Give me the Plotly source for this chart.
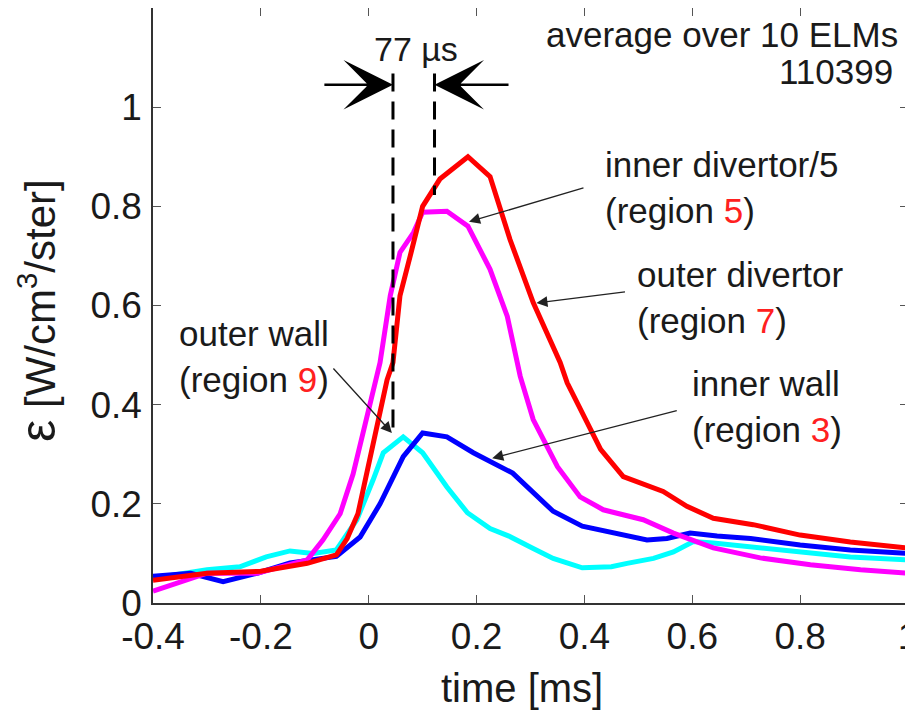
import plotly.graph_objects as go

# ---------------- data ----------------
t_outer_div = [-0.4, -0.3, -0.2, -0.114, -0.06, -0.04, -0.02, 0.008, 0.034, 0.045, 0.058, 0.077,
               0.10, 0.132, 0.184, 0.225, 0.262, 0.305, 0.355, 0.368, 0.43, 0.472, 0.546, 0.59,
               0.639, 0.713, 0.80, 0.893, 1.0]
e_outer_div = [0.046, 0.060, 0.064, 0.080, 0.097, 0.130, 0.180, 0.315, 0.450, 0.485, 0.620, 0.700,
               0.800, 0.855, 0.900, 0.860, 0.733, 0.606, 0.485, 0.444, 0.310, 0.255, 0.225, 0.195,
               0.171, 0.158, 0.137, 0.123, 0.111]

t_inner_div = [-0.4, -0.3, -0.207, -0.114, -0.085, -0.053, -0.029, -0.003, 0.021, 0.04, 0.058,
               0.083, 0.10, 0.145, 0.184, 0.225, 0.257, 0.281, 0.305, 0.35, 0.392, 0.435, 0.509,
               0.565, 0.639, 0.726, 0.819, 0.912, 1.0]
e_inner_div = [0.024, 0.060, 0.060, 0.087, 0.127, 0.180, 0.260, 0.380, 0.485, 0.620, 0.707,
               0.747, 0.788, 0.790, 0.760, 0.673, 0.578, 0.457, 0.370, 0.275, 0.214, 0.188, 0.168,
               0.141, 0.111, 0.091, 0.077, 0.067, 0.060]

t_inner_wall = [-0.4, -0.33, -0.27, -0.207, -0.146, -0.06, -0.016, 0.021, 0.064, 0.10, 0.145,
                0.194, 0.267, 0.305, 0.342, 0.396, 0.461, 0.516, 0.553, 0.596, 0.646, 0.708,
                0.80, 0.893, 1.0]
e_inner_wall = [0.054, 0.060, 0.043, 0.060, 0.081, 0.094, 0.133, 0.200, 0.295, 0.343, 0.335,
                0.303, 0.262, 0.222, 0.185, 0.155, 0.141, 0.127, 0.130, 0.141, 0.135, 0.130,
                0.117, 0.107, 0.100]

t_outer_wall = [-0.4, -0.3, -0.239, -0.19, -0.146, -0.103, -0.06, -0.022, 0.008, 0.027, 0.064,
                0.10, 0.145, 0.183, 0.225, 0.26, 0.305, 0.342, 0.396, 0.45, 0.479, 0.528, 0.565,
                0.602, 0.639, 0.708, 0.80, 0.893, 1.0]
e_outer_wall = [0.050, 0.067, 0.073, 0.093, 0.105, 0.100, 0.107, 0.168, 0.248, 0.303, 0.335,
                0.303, 0.234, 0.182, 0.150, 0.135, 0.110, 0.090, 0.071, 0.073, 0.080, 0.090, 0.103,
                0.124, 0.121, 0.113, 0.103, 0.093, 0.087]

# times of the two marked peaks (77 us apart)
peak_times = [0.045, 0.122]

x_ticks = [-0.4, -0.2, 0, 0.2, 0.4, 0.6, 0.8, 1.0]
x_tick_labels = ["-0.4", "-0.2", "0", "0.2", "0.4", "0.6", "0.8", "1"]
y_ticks = [0, 0.2, 0.4, 0.6, 0.8, 1.0]
y_tick_labels = ["0", "0.2", "0.4", "0.6", "0.8", "1"]

# ---------------- figure ----------------
FONT = "Liberation Sans, Arial, Helvetica, sans-serif"
TXT = "#1a1a1a"

fig = go.Figure()
series = [
    (t_outer_wall, e_outer_wall, "#00ffff", "outer wall"),
    (t_inner_wall, e_inner_wall, "#0000ff", "inner wall"),
    (t_inner_div, e_inner_div, "#ff00ff", "inner divertor/5"),
    (t_outer_div, e_outer_div, "#ff0000", "outer divertor"),
]
for xs, ys, col, name in series:
    fig.add_trace(go.Scatter(x=xs, y=ys, mode="lines", name=name,
                             line=dict(color=col, width=5), showlegend=False))

# dashed vertical markers
dash_bottoms = [0.335, 0.823]
for xt, yb in zip(peak_times, dash_bottoms):
    fig.add_shape(type="line", x0=xt, x1=xt, y0=1.068, y1=yb, xref="x", yref="y",
                  line=dict(color="black", width=3, dash="18px,10px"))

ann = []
# 77 us arrows
ann.append(dict(x=peak_times[0], y=1.045, ax=-0.085, ay=1.045, axref="x", ayref="y",
                xref="x", yref="y", text="", showarrow=True, arrowhead=3,
                arrowsize=3.3, arrowwidth=2.5, arrowcolor="black", standoff=0))
ann.append(dict(x=peak_times[1], y=1.045, ax=0.262, ay=1.045, axref="x", ayref="y",
                xref="x", yref="y", text="", showarrow=True, arrowhead=3,
                arrowsize=3.3, arrowwidth=2.5, arrowcolor="black", standoff=0))
ann.append(dict(x=0.088, y=1.117, xref="x", yref="y", text="77 µs", showarrow=False,
                font=dict(size=34, color=TXT, family=FONT), xanchor="center", yanchor="middle"))

ann.append(dict(x=0.986, y=1.146, xref="x", yref="y", text="average over 10 ELMs",
                showarrow=False, font=dict(size=35, color=TXT, family=FONT),
                xanchor="right", yanchor="middle"))
ann.append(dict(x=0.976, y=1.071, xref="x", yref="y", text="110399",
                showarrow=False, font=dict(size=35, color=TXT, family=FONT),
                xanchor="right", yanchor="middle"))

RED = '<span style="color:#ff2020">%s</span>'
labels = [
    (0.435, 0.837, "inner divertor/5<br>(region " + RED % "5" + ")"),
    (0.494, 0.617, "outer divertor<br>(region " + RED % "7" + ")"),
    (0.596, 0.397, "inner wall<br>(region " + RED % "3" + ")"),
    (-0.356, 0.497, "outer wall<br>(region " + RED % "9" + ")"),
]
for x, y, t in labels:
    ann.append(dict(x=x, y=y, xref="x", yref="y", text=t, showarrow=False, align="left",
                    xanchor="left", yanchor="middle",
                    font=dict(size=35, color=TXT, family=FONT)))

pointers = [
    ((0.401, 0.838), (0.186, 0.769)),
    ((0.478, 0.628), (0.311, 0.605)),
    ((0.574, 0.389), (0.229, 0.292)),
    ((-0.068, 0.476), (0.043, 0.343)),
]
for (tx, ty), (hx, hy) in pointers:
    ann.append(dict(x=hx, y=hy, ax=tx, ay=ty, axref="x", ayref="y", xref="x", yref="y",
                    text="", showarrow=True, arrowhead=2, arrowsize=1.7, arrowwidth=1.3,
                    arrowcolor="#222", standoff=0))

# axis titles (paper fractions of the plot area)
ann.append(dict(x=(522 - 153) / 755, y=(603 - 688) / 595, xref="paper", yref="paper",
                text="time [ms]", showarrow=False, xanchor="center", yanchor="middle",
                font=dict(size=40, color=TXT, family=FONT)))
ann.append(dict(x=(38 - 153) / 755, y=(603 - 311) / 595, xref="paper", yref="paper",
                text='<span style="font-size:50px">ε</span> [W/cm<sup>3</sup>/ster]',
                textangle=-90, showarrow=False, xanchor="center", yanchor="middle",
                font=dict(size=42, color=TXT, family=FONT)))

axis_common = dict(showgrid=False, zeroline=False, showline=True, linecolor="#333",
                   linewidth=1.5, mirror="ticks", ticks="inside", ticklen=8, tickwidth=1,
                   tickcolor="#555", automargin=False,
                   tickfont=dict(size=37, color=TXT, family=FONT))

# the page body adds an 8px offset, so margins are shifted to keep the plot box in place
fig.update_layout(
    template="none",
    width=913, height=713,
    margin=dict(l=145, r=13, t=0, b=118, autoexpand=False),
    paper_bgcolor="white", plot_bgcolor="white",
    xaxis=dict(range=[-0.4, 1.0], tickvals=x_ticks, ticktext=x_tick_labels,
               ticklabelstandoff=0, **axis_common),
    yaxis=dict(range=[0, 1.2], tickvals=y_ticks, ticktext=y_tick_labels,
               ticklabelstandoff=2, **axis_common),
    annotations=ann,
    font=dict(family=FONT),
)

fig.write_html("out.html")
